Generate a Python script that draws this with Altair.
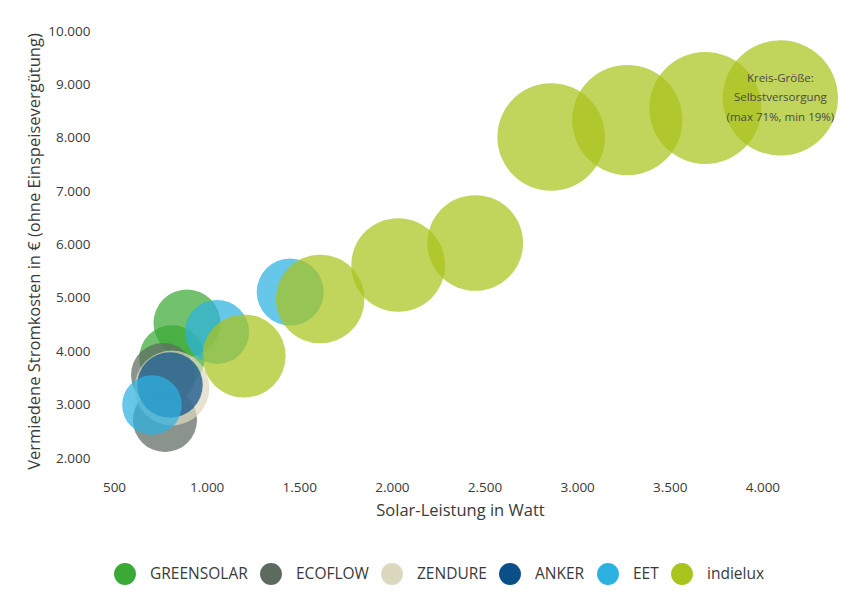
import altair as alt
import pandas as pd

# ---- data ----
brands = ["GREENSOLAR", "GREENSOLAR", "ECOFLOW", "ECOFLOW", "ZENDURE", "ANKER",
          "EET", "EET", "EET",
          "indielux", "indielux", "indielux", "indielux",
          "indielux", "indielux", "indielux", "indielux"]
solar_watt = [894, 813, 765, 775, 813, 802,
              705, 1056, 1451,
              1202, 1613, 2034, 2450, 2860, 3271, 3692, 4097]
saved_euro = [4529, 3873, 3555, 2712, 3311, 3368,
              2993, 4361, 5110,
              3911, 4979, 5616, 6028, 8014, 8332, 8557, 8745]
self_supply = [24, 23, 22, 22, 30, 23,
               19, 22, 24,
               37, 42, 47, 49, 62, 65, 67, 71]

legend_order = ["GREENSOLAR", "ECOFLOW", "ZENDURE", "ANKER", "EET", "indielux"]
legend_colors = ["#3aa935", "#5d6b5f", "#dcd8c0", "#0a4f86", "#2cb1e1", "#a9c41c"]

x_ticks = [500, 1000, 1500, 2000, 2500, 3000, 3500, 4000]
y_ticks = [2000, 3000, 4000, 5000, 6000, 7000, 8000, 9000, 10000]

note_x = [4097]
note_y = [8745]
note_text = ["Kreis-Größe:\nSelbstversorgung\n(max 71%, min 19%)"]

df = pd.DataFrame({
    "brand": brands,
    "watt": solar_watt,
    "euro": saved_euro,
    "pct": self_supply,
    "idx": list(range(len(brands))),
})
note_df = pd.DataFrame({"watt": note_x, "euro": note_y, "text": note_text})

FONT = "Open Sans"
TXT = "#3a3a3a"
de_fmt = "replace(format(datum.value, ','), ',', '.')"

x_enc = alt.X("watt:Q",
              scale=alt.Scale(domain=[500, 4500], nice=False, zero=False),
              axis=alt.Axis(title="Solar-Leistung in Watt", values=x_ticks,
                            labelExpr=de_fmt, grid=False, domain=False, ticks=False,
                            labelFlush=False, labelPadding=22, titlePadding=9,
                            labelFontSize=13.5, titleFontSize=16.5, titleX=346,
                            labelColor=TXT, titleColor=TXT,
                            titleFontWeight="normal", labelFont=FONT, titleFont=FONT))
y_enc = alt.Y("euro:Q",
              scale=alt.Scale(domain=[2000, 10000], nice=False, zero=False),
              axis=alt.Axis(title="Vermiedene Stromkosten in € (ohne Einspeisevergütung)",
                            values=y_ticks, labelExpr=de_fmt, grid=False, domain=False,
                            ticks=False, labelFlush=False, labelPadding=24, titlePadding=5,
                            labelFontSize=13.5, titleFontSize=16.5, titleY=220,
                            labelColor=TXT, titleColor=TXT,
                            titleFontWeight="normal", labelFont=FONT, titleFont=FONT))

bubbles = alt.Chart(df).mark_circle(opacity=0.72, strokeWidth=0).encode(
    x=x_enc,
    y=y_enc,
    size=alt.Size("pct:Q", scale=alt.Scale(domain=[0, 71], range=[0, 13273]), legend=None),
    color=alt.Color("brand:N",
                    scale=alt.Scale(domain=legend_order, range=legend_colors),
                    legend=alt.Legend(title=None, orient="none", direction="horizontal",
                                      legendX=0, legendY=532,
                                      symbolType="circle", symbolSize=480,
                                      symbolOpacity=1, symbolStrokeWidth=0,
                                      labelFontSize=15.5, labelFont=FONT,
                                      labelColor=TXT, labelOffset=14,
                                      columnPadding=12)),
    order=alt.Order("idx:Q"),
)

note = alt.Chart(note_df).mark_text(
    font=FONT, fontSize=11.5, color="#4a4a4a", lineBreak="\n", lineHeight=19.5,
    align="center", baseline="middle", dy=-19,
).encode(x="watt:Q", y="euro:Q", text="text:N")

chart = alt.layer(bubbles, note).properties(
    width=741, height=427,
    autosize=alt.AutoSizeParams(type="none"),
    padding={"left": 114, "top": 31, "right": 3, "bottom": 146},
).configure(background="white", view=alt.ViewConfig(stroke=None, strokeWidth=0))

chart.save("out.html", embed_options={"renderer": "svg", "actions": False})
